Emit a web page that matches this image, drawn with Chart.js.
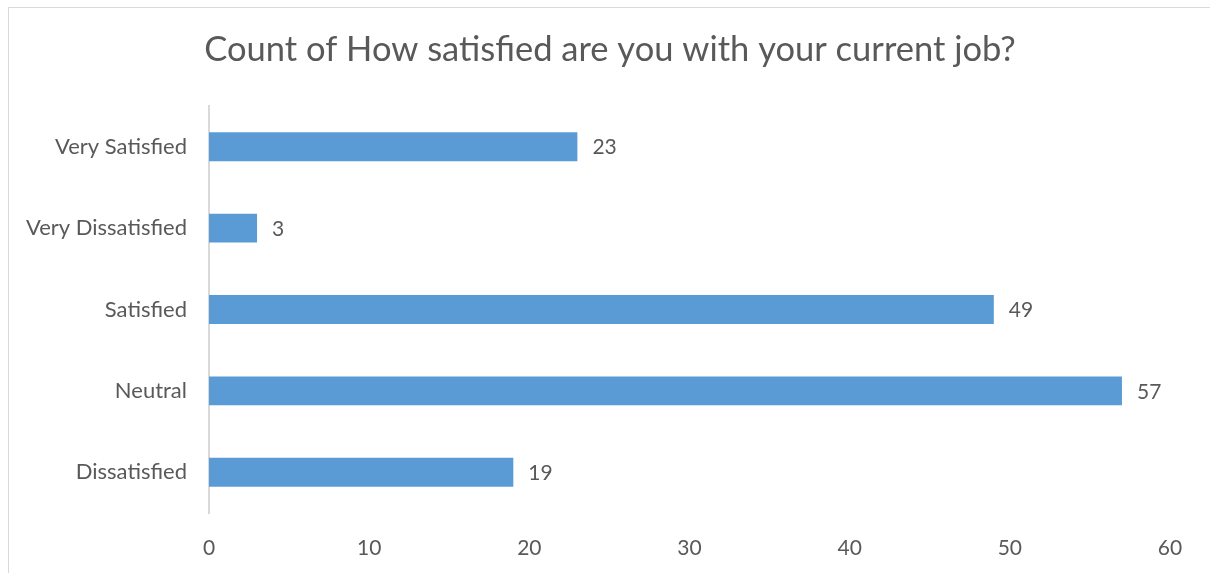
<!DOCTYPE html>
<html>
<head>
<meta charset="utf-8">
<script src="https://cdn.jsdelivr.net/npm/chart.js@4/dist/chart.umd.min.js"></script>
<style>
  html, body { margin: 0; padding: 0; background: #fff; overflow: hidden; }
  #frame { position: absolute; left: 8px; top: 7px; width: 1230px; height: 600px; border: 1px solid #D9D9D9; }
  #wrap { position: absolute; left: 0; top: 0; width: 1210px; height: 573px; }
</style>
</head>
<body>
<div id="frame"></div>
<div id="wrap"><canvas id="myChart" width="1210" height="573"></canvas></div>
<script>
"use strict";
const chartTitle = "Count of How satisfied are you with your current job?";
const categories = ["Very Satisfied", "Very Dissatisfied", "Satisfied", "Neutral", "Dissatisfied"];
const counts = [23, 3, 49, 57, 19];
const xTicks = [0, 10, 20, 30, 40, 50, 60];

const textColor = "#595959";
const fontFamily = "Lato, 'Open Sans', sans-serif";

// title centred on the whole frame, not on the layout box
const titleText = {
  id: "titleText",
  afterDraw(chart) {
    let ctx = chart.ctx;
    ctx.save();
    ctx.fillStyle = textColor;
    ctx.font = "34.5px " + fontFamily;
    ctx.textAlign = "center";
    ctx.textBaseline = "middle";
    ctx.fillText(chartTitle, 610, 50);
    ctx.restore();
  }
};

// draws the number next to each bar end
const valueLabels = {
  id: "valueLabels",
  afterDatasetsDraw(chart) {
    let ctx = chart.ctx;
    ctx.save();
    ctx.fillStyle = textColor;
    ctx.font = "21px " + fontFamily;
    ctx.textAlign = "left";
    ctx.textBaseline = "middle";
    chart.getDatasetMeta(0).data.forEach((bar, i) => {
      ctx.fillText(counts[i], bar.x + 15, bar.y + 1);
    });
    ctx.restore();
  }
};

function makeChart() {
  let ctx = document.getElementById("myChart");
  new Chart(ctx, {
    type: "bar",
    data: {
      labels: categories,
      datasets: [{
        data: counts,
        backgroundColor: "#5B9BD5",
        barPercentage: 1,
        categoryPercentage: 0.355
      }]
    },
    options: {
      indexAxis: "y",
      responsive: false,
      animation: false,
      layout: { padding: { left: 10, right: 40, top: 106, bottom: 0 } },
      plugins: {
        legend: { display: false },
        tooltip: { enabled: false },
        title: { display: false }
      },
      scales: {
        x: {
          min: 0,
          max: 60,
          afterBuildTicks(scale) {
            scale.ticks = xTicks.map(v => ({ value: v }));
          },
          grid: { display: false, drawTicks: false },
          border: { display: false },
          ticks: {
            color: textColor,
            font: { family: fontFamily, size: 21 },
            padding: 23
          },
          afterFit(scale) { scale.height = 60; }
        },
        y: {
          grid: { display: false, drawTicks: false },
          border: { display: true, color: "#D9D9D9", width: 2 },
          ticks: {
            color: textColor,
            font: { family: fontFamily, size: 22 },
            padding: 22
          },
          afterFit(scale) { scale.width = 199; }
        }
      }
    },
    plugins: [valueLabels, titleText]
  });
}
makeChart();
</script>
</body>
</html>
